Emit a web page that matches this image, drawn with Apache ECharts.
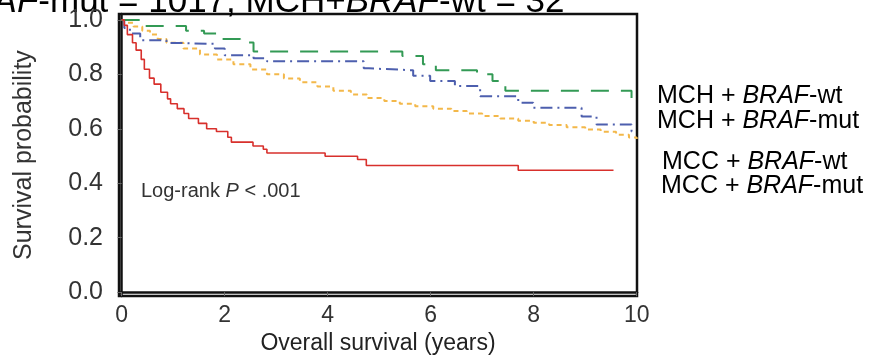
<!DOCTYPE html>
<html>
<head>
<meta charset="utf-8">
<script src="https://cdn.jsdelivr.net/npm/echarts@6/dist/echarts.min.js"></script>
<style>
  html, body { margin: 0; padding: 0; background: #fff; }
  #main { width: 878px; height: 360px; }
</style>
</head>
<body>
<div id="main"></div>
<script>
// tick labels
const xTicks = [0, 2, 4, 6, 8, 10];
const yTicks = [0, 0.2, 0.4, 0.6, 0.8, 1.0];

// MCH + BRAF-wt (green)
const greenT = [0, 0.45, 1.25, 1.6, 1.85, 2.3, 2.56, 5.45, 5.85, 6.1, 6.9, 7.2, 7.45, 9.9, 10.0];
const greenS = [1.0, 0.978, 0.96, 0.95, 0.93, 0.917, 0.884, 0.867, 0.837, 0.815, 0.8, 0.776, 0.74, 0.71, 0.71];

// MCH + BRAF-mut (blue)
const blueT = [0, 0.05, 0.16, 0.36, 0.87, 1.13, 1.81, 2.0, 2.56, 2.82, 4.7, 4.8, 5.66, 5.99, 6.47, 6.96, 7.7, 7.99, 8.93, 9.22, 9.9, 10.0];
const blueS = [1.0, 0.97, 0.95, 0.925, 0.915, 0.912, 0.895, 0.87, 0.859, 0.848, 0.822, 0.815, 0.795, 0.776, 0.757, 0.72, 0.696, 0.677, 0.645, 0.616, 0.59, 0.59];

// MCC + BRAF-wt (orange)
const orangeT = [0, 0.1, 0.23, 0.4, 0.55, 0.7, 0.87, 1.2, 1.52, 1.85, 2.17, 2.5, 2.82, 3.15, 3.46, 3.8, 4.11, 4.45, 4.76, 5.1, 5.4, 5.7, 6.05, 6.4, 6.7, 7.0, 7.35, 7.7, 8.0, 8.3, 8.64, 9.0, 9.3, 9.6, 9.85, 10.0];
const orangeS = [1.0, 0.99, 0.976, 0.96, 0.946, 0.93, 0.916, 0.895, 0.873, 0.855, 0.837, 0.818, 0.8, 0.785, 0.771, 0.755, 0.74, 0.726, 0.713, 0.702, 0.692, 0.683, 0.674, 0.665, 0.656, 0.647, 0.638, 0.63, 0.622, 0.614, 0.606, 0.597, 0.589, 0.578, 0.568, 0.563];

// MCC + BRAF-mut (red)
const redT = [0, 0.05, 0.11, 0.21, 0.28, 0.38, 0.44, 0.54, 0.63, 0.76, 0.89, 0.95, 1.08, 1.21, 1.3, 1.49, 1.65, 1.84, 2.06, 2.13, 2.55, 2.75, 2.82, 3.95, 4.58, 4.75, 7.7, 9.55];
const redS = [1.0, 0.98, 0.946, 0.916, 0.889, 0.855, 0.819, 0.786, 0.764, 0.734, 0.71, 0.692, 0.674, 0.656, 0.638, 0.62, 0.6, 0.59, 0.569, 0.551, 0.537, 0.525, 0.511, 0.499, 0.487, 0.465, 0.448, 0.448];

function pairs(t, s) {
  return t.map((v, i) => [v, s[i]]);
}

// rich text helper: plain + italic pieces
function richStyle(size, color) {
  return {
    a: { fontFamily: font, fontSize: size, fill: color },
    i: { fontFamily: font, fontSize: size, fontStyle: 'italic', fill: color }
  };
}

const chart = echarts.init(document.getElementById('main'));
const font = 'Liberation Sans, Arial, sans-serif';

chart.setOption({
  animation: false,
  grid: {
    left: 119, right: 241, top: 14, bottom: 60,
    show: true, borderColor: '#111', borderWidth: 2.5, backgroundColor: '#fff'
  },
  xAxis: {
    type: 'value', min: -0.052, max: 10.006,
    name: 'Overall survival (years)', nameLocation: 'middle', nameGap: 33,
    nameTextStyle: { fontFamily: font, fontSize: 23, color: '#222' },
    axisLine: { show: true, lineStyle: { color: '#111', width: 2.5 } },
    axisTick: { show: true, customValues: xTicks, length: 4, lineStyle: { color: '#666' } },
    axisLabel: { customValues: xTicks, fontFamily: font, fontSize: 23, color: '#333', margin: 8 },
    splitLine: { show: false }
  },
  yAxis: {
    type: 'value', min: -0.0145, max: 1.0217,
    name: 'Survival probability', nameLocation: 'middle', nameGap: 82, nameRotate: 90,
    nameTextStyle: { fontFamily: font, fontSize: 25, color: '#333' },
    axisLine: { show: true, lineStyle: { color: '#111', width: 2.5 } },
    axisTick: { show: true, customValues: yTicks, length: 4, lineStyle: { color: '#666' } },
    axisLabel: {
      customValues: yTicks, fontFamily: font, fontSize: 25, color: '#333', margin: 16,
      formatter: v => v.toFixed(1)
    },
    splitLine: { show: false }
  },
  series: [
    {
      name: 'MCC + BRAF-wt', type: 'line', step: 'end', showSymbol: false,
      data: pairs(orangeT, orangeS),
      lineStyle: { color: '#f3b84a', width: 2, type: [5, 4] }
    },
    {
      name: 'MCH + BRAF-mut', type: 'line', step: 'end', showSymbol: false,
      data: pairs(blueT, blueS),
      lineStyle: { color: '#4d5fae', width: 2, type: [12, 5, 2, 5] }
    },
    {
      name: 'MCH + BRAF-wt', type: 'line', step: 'end', showSymbol: false,
      data: pairs(greenT, greenS),
      lineStyle: { color: '#339a55', width: 2, type: [18, 12] }
    },
    {
      name: 'MCC + BRAF-mut', type: 'line', step: 'end', showSymbol: false,
      data: pairs(redT, redS),
      lineStyle: { color: '#d8302c', width: 1.6 }
    }
  ],
  graphic: [
    {
      type: 'text', left: -55, top: -15,
      style: { text: '{i|BRAF}{a|-mut = 1017, MCH+}{i|BRAF}{a|-wt = 32}', rich: richStyle(35, '#000') }
    },
    {
      type: 'text', left: 141, top: 181,
      style: { text: '{a|Log-rank }{i|P}{a| < .001}', rich: richStyle(20, '#333') }
    },
    {
      type: 'text', left: 657, top: 84,
      style: { text: '{a|MCH + }{i|BRAF}{a|-wt}', rich: richStyle(25, '#000') }
    },
    {
      type: 'text', left: 657, top: 109,
      style: { text: '{a|MCH + }{i|BRAF}{a|-mut}', rich: richStyle(25, '#000') }
    },
    {
      type: 'text', left: 662, top: 150,
      style: { text: '{a|MCC + }{i|BRAF}{a|-wt}', rich: richStyle(25, '#000') }
    },
    {
      type: 'text', left: 661, top: 174,
      style: { text: '{a|MCC + }{i|BRAF}{a|-mut}', rich: richStyle(25, '#000') }
    }
  ]
});
</script>
</body>
</html>
